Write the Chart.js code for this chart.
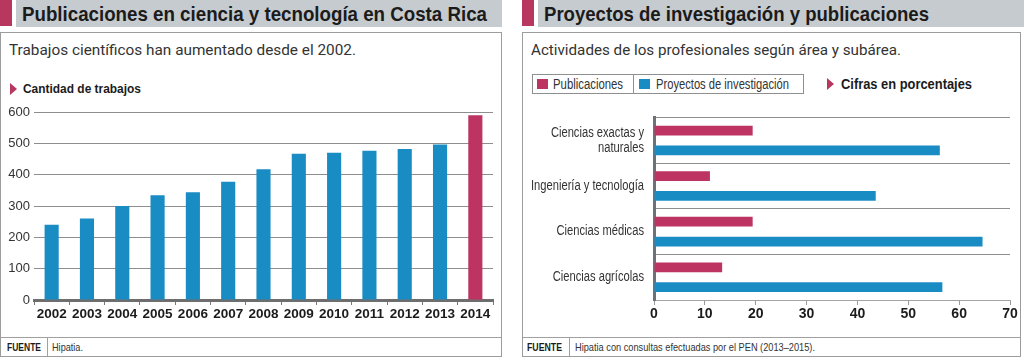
<!DOCTYPE html>
<html>
<head>
<meta charset="utf-8">
<script src="https://cdn.jsdelivr.net/npm/chart.js@4"></script>
<style>
  html,body{margin:0;padding:0;background:#fff;}
  body{width:1024px;height:357px;position:relative;overflow:hidden;
       font-family:"Liberation Sans",Arial,sans-serif;color:#222;}
  .abs{position:absolute;}
  .t{position:absolute;white-space:nowrap;transform-origin:0 50%;}
  .mag{background:#b8375f;}
  .hdr{background:#c6cbcf;height:27px;top:0;}
  .title{top:0;line-height:28px;font-weight:bold;font-size:21px;color:#1b1b1b;}
  .box{border:1px solid #9c9c9c;box-sizing:border-box;top:32px;height:325px;}
  .sub{font-family:Roboto,"Liberation Sans",sans-serif;font-size:15.5px;color:#333;line-height:18px;}
  .lbl{font-weight:bold;font-size:13.5px;color:#1b1b1b;line-height:16px;}
  .tri{width:0;height:0;border-top:6px solid transparent;border-bottom:6px solid transparent;border-left:7px solid #b8375f;}
  .fline{height:1px;background:#a0a0a0;}
  .fsep{width:1px;background:#a0a0a0;}
  .ft{font-size:11.5px;color:#333;line-height:14px;}
  .ftb{font-size:11.5px;font-weight:bold;color:#1b1b1b;line-height:14px;}
  .leg{border:1px solid #8f8f8f;box-sizing:border-box;}
  .sq{width:11px;height:10px;}
  .lt{font-size:14px;color:#333;line-height:16px;}
</style>
</head>
<body>
<!-- Left panel -->
<div class="abs mag" style="left:0;top:0;width:12px;height:26px;"></div>
<div class="abs hdr" style="left:16px;width:486px;"></div>
<span class="t title" id="tt1" style="left:22px;">Publicaciones en ciencia y tecnología en Costa Rica</span>
<div class="abs box" style="left:0;width:502px;"></div>
<span class="t sub" id="st1" style="left:9px;top:41px;">Trabajos científicos han aumentado desde el 2002.</span>
<div class="abs tri" style="left:10px;top:83px;"></div>
<span class="t lbl" id="lb1" style="left:23px;top:81px;">Cantidad de trabajos</span>
<div class="abs fline" style="left:1px;top:337px;width:500px;"></div>
<div class="abs fsep" style="left:47px;top:337px;height:19px;"></div>
<span class="t ftb" id="f1a" style="left:7px;top:340px;">FUENTE</span>
<span class="t ft" id="f1b" style="left:52px;top:340px;">Hipatia.</span>
<canvas id="c1" class="abs" style="left:0;top:100px;" width="500" height="230"></canvas>

<!-- Right panel -->
<div class="abs mag" style="left:522px;top:0;width:12px;height:26px;"></div>
<div class="abs hdr" style="left:538px;width:486px;"></div>
<span class="t title" id="tt2" style="left:544px;">Proyectos de investigación y publicaciones</span>
<div class="abs box" style="left:522px;width:499px;"></div>
<span class="t sub" id="st2" style="left:531px;top:41px;">Actividades de los profesionales según área y subárea.</span>
<div class="abs leg" style="left:532px;top:74px;width:272px;height:20px;"></div>
<div class="abs fsep" style="left:633px;top:74px;height:20px;background:#8f8f8f;"></div>
<div class="abs sq" style="left:537px;top:79px;background:#bd3462;"></div>
<span class="t lt" id="lg1" style="left:553px;top:76px;">Publicaciones</span>
<div class="abs sq" style="left:639px;top:79px;background:#1a8cc4;"></div>
<span class="t lt" id="lg2" style="left:656px;top:76px;">Proyectos de investigación</span>
<div class="abs tri" style="left:827px;top:78px;"></div>
<span class="t lbl" id="lb2" style="left:841px;top:76px;font-size:14px;">Cifras en porcentajes</span>
<div class="abs fline" style="left:523px;top:337px;width:497px;"></div>
<div class="abs fsep" style="left:569px;top:337px;height:19px;"></div>
<span class="t ftb" id="f2a" style="left:527px;top:340px;">FUENTE</span>
<span class="t ft" id="f2b" style="left:575px;top:340px;">Hipatia con consultas efectuadas por el PEN (2013–2015).</span>
<canvas id="c2" class="abs" style="left:522px;top:100px;" width="498" height="230"></canvas>

<script>
// ---- Data: left chart ----
const years = ['2002','2003','2004','2005','2006','2007','2008','2009','2010','2011','2012','2013','2014'];
const trabajos = [240, 260, 300, 334, 344, 377, 417, 467, 470, 476, 482, 496, 590];
const trabajosTicks = [0, 100, 200, 300, 400, 500, 600];

// ---- Data: right chart ----
const areas = [['Ciencias exactas y', 'naturales'], 'Ingeniería y tecnología', 'Ciencias médicas', 'Ciencias agrícolas'];
const publicaciones = [19.4, 11.0, 19.4, 13.4];
const proyectos = [56.2, 43.6, 64.6, 56.7];
const porcentajeTicks = [0, 10, 20, 30, 40, 50, 60, 70];

const BLUE = '#1a8cc4';
const MAGENTA = '#bd3462';
const REG = '"Liberation Sans",Arial,sans-serif';

// condense HTML text to the widths of the reference's condensed typeface
function fit(id, w) {
  const el = document.getElementById(id);
  const k = w / el.getBoundingClientRect().width;
  el.style.transform = 'scaleX(' + k + ')';
}
fit('tt1', 465); fit('tt2', 385);
fit('st1', 347); fit('st2', 370);
fit('lb1', 118); fit('lb2', 131);
fit('lg1', 70);  fit('lg2', 133);
fit('f1a', 34);  fit('f1b', 31);
fit('f2a', 35);  fit('f2b', 240);

Chart.defaults.font.family = REG;
Chart.defaults.color = '#333';

// horizontal condensing factor for the category labels (condensed face)
const mctx = document.createElement('canvas').getContext('2d');
mctx.font = '14px "Liberation Sans"';
const CONDENSE = 113 / mctx.measureText('Ingeniería y tecnología').width;

const condenseYLabels = {
  id: 'condenseYLabels',
  beforeDraw(chart) {
    const s = chart.scales.y;
    if (s._condensed) return;
    const orig = s.drawLabels.bind(s);
    s._computeLabelArea = function () { return undefined; };
    s.drawLabels = function (area) {
      const ctx = chart.ctx;
      const xr = s.right - 10;
      ctx.save();
      ctx.translate(xr, 0);
      ctx.scale(CONDENSE, 1);
      ctx.translate(-xr, 0);
      orig(area);
      ctx.restore();
    };
    s._condensed = true;
  }
};

new Chart(document.getElementById('c1'), {
  type: 'bar',
  data: {
    labels: years,
    datasets: [{
      data: trabajos,
      backgroundColor: years.map((y, i) => i === years.length - 1 ? MAGENTA : BLUE),
      barPercentage: 0.4,
      categoryPercentage: 1.0,
      borderWidth: 0
    }]
  },
  options: {
    responsive: false,
    animation: false,
    layout: { padding: { top: 12, right: 7, left: 0, bottom: 0 } },
    plugins: { legend: { display: false }, tooltip: { enabled: false } },
    scales: {
      x: {
        grid: { drawOnChartArea: false, drawTicks: true, tickLength: 5, color: '#777', lineWidth: 1, offset: true },
        border: { color: '#6e6e6e', width: 3 },
        ticks: { font: { weight: 'bold', size: 13.5 }, color: '#1b1b1b', padding: 1, maxRotation: 0, autoSkip: false },
        afterFit(s) { s.height = 30; }
      },
      y: {
        min: 0, max: 600,
        afterBuildTicks(s) { s.ticks = trabajosTicks.map(v => ({ value: v })); },
        ticks: { font: { size: 13 }, color: '#333', padding: 4 },
        grid: { color: '#8e8e8e', lineWidth: 1, drawTicks: false },
        border: { display: false },
        afterFit(s) { s.width = 34; }
      }
    }
  }
});

new Chart(document.getElementById('c2'), {
  type: 'bar',
  plugins: [condenseYLabels],
  data: {
    labels: areas,
    datasets: [
      { label: 'Publicaciones', data: publicaciones, backgroundColor: MAGENTA, barPercentage: 0.49, categoryPercentage: 0.87, borderWidth: 0 },
      { label: 'Proyectos de investigación', data: proyectos, backgroundColor: BLUE, barPercentage: 0.49, categoryPercentage: 0.87, borderWidth: 0 }
    ]
  },
  options: {
    indexAxis: 'y',
    responsive: false,
    animation: false,
    layout: { padding: { top: 12, right: 10, left: 0, bottom: 0 } },
    plugins: { legend: { display: false }, tooltip: { enabled: false } },
    scales: {
      x: {
        min: 0, max: 70,
        afterBuildTicks(s) { s.ticks = porcentajeTicks.map(v => ({ value: v })); },
        grid: { drawOnChartArea: false, drawTicks: true, tickLength: 5, color: '#9a9a9a', lineWidth: 1 },
        border: { color: '#a3a3a3', width: 1 },
        ticks: { font: { weight: 'bold', size: 14 }, color: '#1b1b1b', padding: 1, maxRotation: 0 },
        afterFit(s) { s.height = 30; }
      },
      y: {
        grid: { color: '#8e8e8e', lineWidth: 1, drawTicks: false, offset: true },
        border: { color: '#6d7278', width: 3 },
        ticks: { font: { size: 14, lineHeight: 1.1 }, color: '#333', padding: 10 },
        afterFit(s) { s.width = 132; }
      }
    }
  }
});
</script>
</body>
</html>
